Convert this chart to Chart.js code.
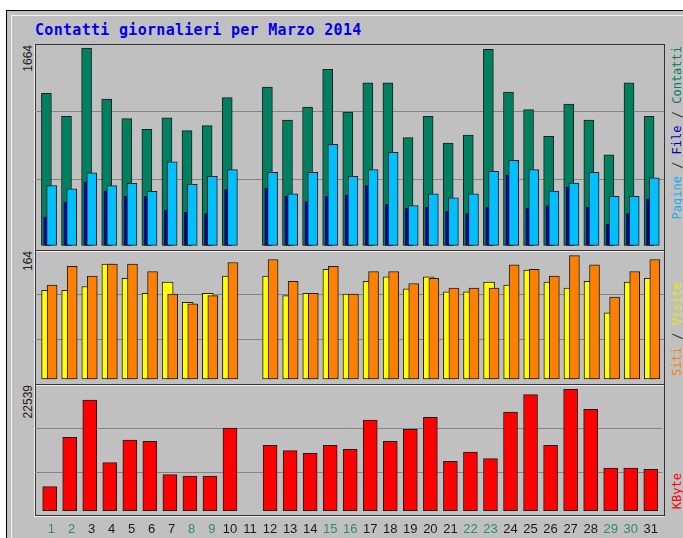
<!DOCTYPE html>
<html>
<head>
<meta charset="utf-8">
<script src="https://cdn.jsdelivr.net/npm/chart.js@4.4.1/dist/chart.umd.min.js"></script>
<style>
  body { margin: 0; width: 683px; height: 538px; overflow: hidden; position: relative; background: #fff;
         font-family: 'Liberation Sans', Arial, sans-serif; }
  #outer { position: absolute; left: 6px; top: 10px; width: 720px; height: 600px; background: #c0c0c0;
           border-left: 1px solid #000; border-top: 1px solid #000; }
  #inner { position: absolute; left: 11px; top: 15px; width: 720px; height: 600px;
           border-left: 1px solid #f4f4f4; border-top: 1px solid #f4f4f4; }
  .title { position: absolute; left: 35px; top: 21px; font: bold 15px 'DejaVu Sans Mono', monospace;
           letter-spacing: 0.3px; color: #0000ee; }
  .frame { position: absolute; left: 35px; width: 630px; box-sizing: border-box; border: 1px solid #333;
           box-shadow: -1px 1px 0 #eee; }
  .plot { position: absolute; left: 35px; width: 629px; }
  .vlab { position: absolute; writing-mode: vertical-rl; transform: rotate(180deg); white-space: nowrap; line-height: 14px; }
  .peak { font-size: 12px; color: #222; left: 21px; }
  .side { font: 12px 'DejaVu Sans Mono', monospace; left: 670px; color: #333; }
</style>
</head>
<body>
<div id="outer"></div>
<div id="inner"></div>
<div class="title">Contatti giornalieri per Marzo 2014</div>

<div class="frame" style="top:44px;height:207px"></div>
<div class="frame" style="top:250px;height:135px"></div>
<div class="frame" style="top:384px;height:132px"></div>

<div class="plot" style="top:44px;height:206px"><canvas id="c1"></canvas></div>
<div class="plot" style="top:250px;height:134px"><canvas id="c2"></canvas></div>
<div class="plot" style="top:384px;height:154px"><canvas id="c3"></canvas></div>

<div class="vlab peak" id="p1" style="top:45px"></div>
<div class="vlab peak" id="p2" style="top:251px"></div>
<div class="vlab peak" id="p3" style="top:385px"></div>

<div class="vlab side" style="top:46px"><span style="color:#22aaee">Pagine</span> / <span style="color:#0000b0">File</span> / <span style="color:#00805e">Contatti</span></div>
<div class="vlab side" style="top:282px"><span style="color:#ff8000">Siti</span> / <span style="color:#e6e600">Visite</span></div>
<div class="vlab side" style="top:473px"><span style="color:#ff0000">KByte</span></div>

<script>
// giorni di marzo 2014 (l'11 non ha dati)
const DAYS = Array.from({length: 31}, (_, i) => i + 1);
const WEEKEND = [1, 2, 8, 9, 15, 16, 22, 23, 29, 30];

const CONTATTI = [1282, 1088, 1664, 1234, 1068, 978, 1076, 967, 1009, 1245, null, 1335, 1057, 1166, 1484, 1124,
                  1371, 1371, 908, 1088, 863, 930, 1653, 1293, 1144, 919, 1192, 1057, 762, 1371, 1088];
const FILE     = [241, 365, 536, 458, 413, 413, 298, 278, 267, 469, null, 481, 413, 368, 413, 424,
                  503, 346, 312, 323, 289, 267, 323, 593, 312, 334, 492, 323, 177, 267, 390];
const PAGINE   = [503, 477, 612, 503, 523, 455, 703, 514, 582, 638, null, 616, 435, 616, 852, 582,
                  638, 784, 334, 435, 401, 435, 624, 717, 638, 458, 525, 616, 413, 413, 570];
const SITI     = [118, 118, 123, 153, 134, 114, 129, 102, 114, 137, null, 137, 111, 114, 146, 113,
                  130, 136, 120, 136, 116, 116, 129, 125, 145, 129, 121, 130, 88, 129, 134];
const VISITE   = [125, 150, 137, 153, 153, 143, 113, 100, 111, 155, null, 159, 130, 114, 150, 113,
                  143, 143, 127, 134, 121, 121, 121, 152, 146, 137, 164, 152, 109, 143, 159];
const KBYTE    = [4456, 13628, 20553, 8912, 13127, 12885, 6684, 6443, 6443, 15355, null, 12143, 11140, 10657, 12143, 11400,
                  16840, 12885, 15113, 17341, 9172, 10899, 9655, 18325, 21537, 12143, 22539, 18826, 7928, 7928, 7687];

const PEAK_CONTATTI = 1664;
const PEAK_VISITE = 164;
const PEAK_KBYTE = 22539;

document.getElementById('p1').textContent = PEAK_CONTATTI;
document.getElementById('p2').textContent = PEAK_VISITE;
document.getElementById('p3').textContent = PEAK_KBYTE;

// x: 629px plot, day 1 centred 14.7px from the left edge, ~20.09px per day
const PLOT_W = 629;
const X_MIN = 0.268, X_MAX = 31.578;
const PPU = PLOT_W / (X_MAX - X_MIN);
const GRID = '#858585';
const EDGE = '#1c1c1c';

function dayAxis(shift, show) {
  return {
    type: 'linear', display: !!show, offset: false,
    min: X_MIN - shift / PPU, max: X_MAX - shift / PPU,
    grid: { display: false, drawTicks: false, offset: false }, border: { display: false },
    ticks: {
      stepSize: 1, includeBounds: false, autoSkip: false, maxRotation: 0, padding: 6,
      font: { family: 'Liberation Sans', size: 13 },
      color: c => WEEKEND.includes(c.tick.value) ? '#2e8b6e' : '#1a1a1a',
      // single digits sit a little right of the bar in the original
      callback: v => Number.isInteger(v) ? (v < 10 ? ' ' + v : String(v)) : ''
    },
    afterFit: s => { if (show) s.height = 22; }
  };
}

// peak bar ends topPad px under the frame, zero sits basePad px over the plot bottom
function valueAxis(peak, topPad, basePad, plotH) {
  const ppu = (plotH - topPad - basePad) / peak;
  const min = -basePad / ppu, max = peak + topPad / ppu;
  return {
    min, max,
    ticks: { display: false },
    grid: { color: GRID, drawTicks: false },
    border: { display: false },
    afterBuildTicks: ax => { ax.ticks = [1, 2].map(k => ({ value: min + k * (max - min) / 3 })); }
  };
}

function bars(label, data, color, xAxisID, thick) {
  return { label, data, xAxisID, backgroundColor: color, borderColor: EDGE, borderWidth: 1,
           borderSkipped: false, barThickness: thick, grouped: false };
}

function panel(id, datasets, scales, padBottom) {
  new Chart(document.getElementById(id), {
    type: 'bar',
    data: { labels: DAYS, datasets },
    options: {
      responsive: true, maintainAspectRatio: false, animation: false, events: [],
      layout: { padding: { left: 0, right: 0, top: 0, bottom: padBottom } },
      plugins: { legend: { display: false }, tooltip: { enabled: false } },
      scales
    }
  });
}

// first dataset is painted last, so the right-hand bar sits on top
panel('c1', [
  bars('Pagine', PAGINE, '#00bfff', 'xp', 10),
  bars('File', FILE, '#0000b0', 'xf', 6),
  bars('Contatti', CONTATTI, '#00805e', 'xc', 10)
], {
  x: dayAxis(0), xp: dayAxis(1.9), xf: dayAxis(-3), xc: dayAxis(-3.3),
  y: valueAxis(PEAK_CONTATTI, 4, 1.7, 203)
}, 3);

panel('c2', [
  bars('Visite', VISITE, '#ff8000', 'xv', 10),
  bars('Siti', SITI, '#ffff00', 'xs', 11)
], {
  x: dayAxis(0), xv: dayAxis(2.4), xs: dayAxis(-2.6),
  y: valueAxis(PEAK_VISITE, 5.7, 5, 134)
}, 0);

panel('c3', [
  bars('KByte', KBYTE, '#ff0000', 'x', 14)
], {
  x: dayAxis(0, true),
  y: valueAxis(PEAK_KBYTE, 5.3, 5.3, 132)
}, 0);
</script>
</body>
</html>
